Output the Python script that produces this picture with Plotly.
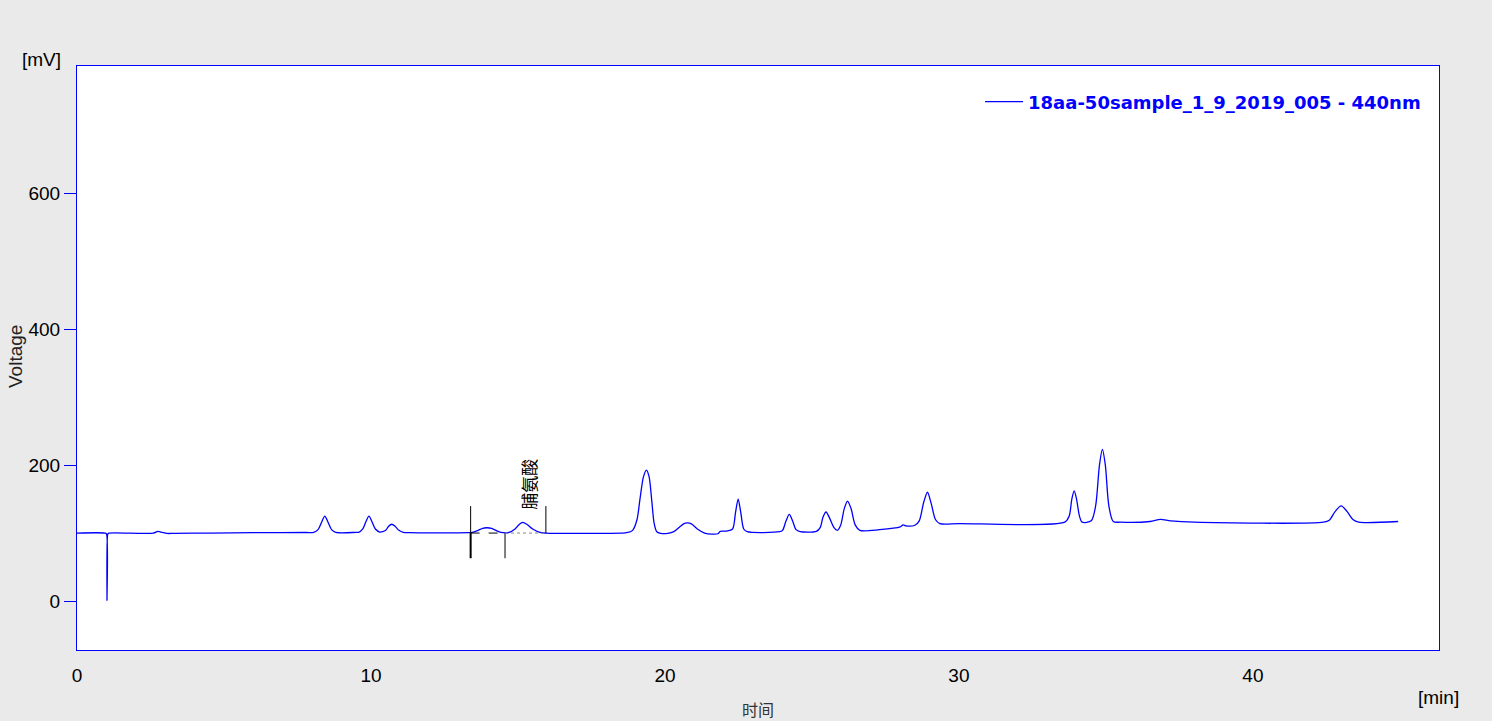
import plotly.graph_objects as go

# Chromatogram points (time in min, voltage in mV)
time_min = [
    0.0, 0.95, 1.00, 1.02, 1.05, 1.08, 2.6, 2.75, 2.9, 3.05, 3.3, 4.5, 6.0, 7.8,
    8.05, 8.2, 8.32, 8.43, 8.54, 8.66, 8.8, 9.5,
    9.58, 9.72, 9.83, 9.93, 10.03, 10.15, 10.3, 10.4,
    10.5, 10.6, 10.71, 10.82, 10.95, 11.1, 11.3, 13.3,
    13.45, 13.65, 13.8, 13.93, 14.1, 14.3, 14.5,
    14.7, 14.9, 15.05, 15.16, 15.3, 15.5, 15.75, 15.95, 18.5,
    18.7, 18.9, 19.05, 19.15, 19.27, 19.37, 19.46, 19.55, 19.63, 19.72, 19.85, 20.1,
    20.3, 20.5, 20.65, 20.76, 20.9, 21.1, 21.35, 21.6, 21.8, 21.88, 22.1,
    22.3, 22.4, 22.49, 22.58, 22.68, 22.8, 23.9,
    24.0, 24.12, 24.23, 24.34, 24.46, 24.6, 25.15,
    25.28, 25.38, 25.48, 25.6, 25.75, 25.86,
    25.98, 26.1, 26.21, 26.33, 26.47, 26.63, 27.3, 28.0, 28.1, 28.2, 28.5,
    28.65, 28.8, 28.93, 29.06, 29.2, 29.35, 30.0, 33.6,
    33.75, 33.84, 33.92, 34.0, 34.1, 34.19,
    34.5, 34.65, 34.78, 34.88, 34.98, 35.1, 35.25, 35.5, 36.5, 36.85, 37.2, 38.0, 42.4,
    42.6, 42.8, 43.0, 43.2, 43.4, 43.6, 44.94,
]
voltage_mv = [
    100, 100, 99, 1, 99, 100, 100, 102.5, 101, 99.5, 99.5, 100, 100.5, 100.8,
    101, 105, 116, 125, 116, 105, 101, 101,
    101, 106, 117, 125, 117, 106, 101.5, 102,
    104, 110, 113, 110, 104, 101, 100.5, 100.5,
    101, 104, 107, 107.8, 107, 103, 100.5,
    101, 106, 113, 115.7, 113, 106, 101, 100, 100,
    100.5, 104, 120, 150, 183, 192.6, 183, 148, 115, 102, 99.5, 99.5,
    102, 109, 114, 115, 113.5, 106, 100, 98.5, 99, 102.5, 103,
    106, 130, 150, 130, 106, 102, 102,
    104, 118, 127.5, 118, 105, 102, 102.5,
    108, 124, 131, 122, 108, 104,
    112, 136, 147, 136, 112, 104, 105, 109, 112, 110.5, 111.5,
    118, 145, 160, 143, 120, 114, 114, 116,
    125, 150, 162, 150, 125, 116,
    118, 140, 200, 223, 200, 140, 117, 116, 117, 120, 118, 116, 116,
    119, 132, 140, 132, 120, 116, 117,
]

series_name = "18aa-50sample_1_9_2019_005 - 440nm"
x_ticks = [0, 10, 20, 30, 40]
y_ticks = [0, 200, 400, 600]

# Integration markers for the labelled peak
peak_label = "脯氨酸"
peak_label_time = 15.33
peak_label_voltage = 172
integ_start, integ_split, integ_end = 13.39, 14.56, 15.95
integ_base = 100
marker_top = 139.7
marker_bottom = 63

fig = go.Figure()
fig.add_trace(go.Scatter(
    x=time_min, y=voltage_mv, mode="lines", name=series_name,
    line=dict(color="#0000FF", width=1.3, shape="spline", smoothing=0.8),
    showlegend=True,
))

shapes = [
    dict(type="line", xref="x", yref="y", x0=integ_start, x1=integ_start,
         y0=integ_base, y1=marker_top, line=dict(color="black", width=1)),
    dict(type="line", xref="x", yref="y", x0=integ_start, x1=integ_start,
         y0=marker_bottom, y1=integ_base, line=dict(color="black", width=2)),
    dict(type="line", xref="x", yref="y", x0=integ_split, x1=integ_split,
         y0=marker_bottom, y1=integ_base, line=dict(color="black", width=1)),
    dict(type="line", xref="x", yref="y", x0=integ_end, x1=integ_end,
         y0=integ_base, y1=marker_top, line=dict(color="black", width=1)),
    dict(type="line", xref="x", yref="y", x0=integ_start, x1=integ_split,
         y0=integ_base, y1=integ_base, line=dict(color="black", width=1, dash="dash")),
    dict(type="line", xref="x", yref="y", x0=integ_split, x1=integ_end,
         y0=integ_base, y1=integ_base, line=dict(color="#888888", width=1, dash="dot")),
]

tick_font = dict(family="Liberation Sans, Arial, sans-serif", size=19, color="black")

annotations = [
    dict(text=peak_label, x=peak_label_time, y=peak_label_voltage, xref="x", yref="y",
         textangle=-90, showarrow=False, xanchor="center", yanchor="middle",
         font=dict(family="Noto Sans CJK SC", size=17, color="black")),
    dict(text="[mV]", x=-0.0257, y=1.0103, xref="paper", yref="paper",
         xanchor="center", yanchor="middle", showarrow=False, font=tick_font),
    dict(text="[min]", x=0.9993, y=-0.0805, xref="paper", yref="paper",
         xanchor="center", yanchor="middle", showarrow=False, font=tick_font),
    dict(text="Voltage", x=-0.0455, y=0.5017, xref="paper", yref="paper",
         xanchor="center", yanchor="middle", textangle=-90, showarrow=False,
         font=dict(family="Liberation Sans, Arial", size=19, color="#222222")),
    dict(text="时间", x=0.5, y=-0.101, xref="paper", yref="paper",
         xanchor="center", yanchor="middle", showarrow=False,
         font=dict(family="Noto Sans CJK SC", size=16, color="#333333")),
]

fig.update_layout(
    width=1492, height=721,
    margin=dict(l=77, r=53, t=66, b=71),
    paper_bgcolor="#EAEAEA",
    plot_bgcolor="white",
    shapes=shapes,
    annotations=annotations,
    legend=dict(x=0.9905, xanchor="right", y=0.970, yanchor="top",
                bgcolor="rgba(0,0,0,0)", itemwidth=38,
                font=dict(family="DejaVu Sans", size=18, color="#0000FF", weight="bold")),
    xaxis=dict(range=[0, 46.33], tickvals=x_ticks, showgrid=False, zeroline=False,
               showline=True, linecolor="#0000FF", linewidth=1, mirror=True,
               ticks="", ticklabelstandoff=8, tickfont=tick_font),
    yaxis=dict(range=[-72, 787], tickvals=y_ticks, showgrid=False, zeroline=False,
               showline=True, linecolor="#0000FF", linewidth=1, mirror=True,
               ticks="outside", ticklen=12, tickcolor="#0000FF", tickfont=tick_font),
)

fig.write_html(
    "out.html",
    config={"displayModeBar": False},
    post_script="document.body.style.margin='0';document.body.style.background='#EAEAEA';",
)
